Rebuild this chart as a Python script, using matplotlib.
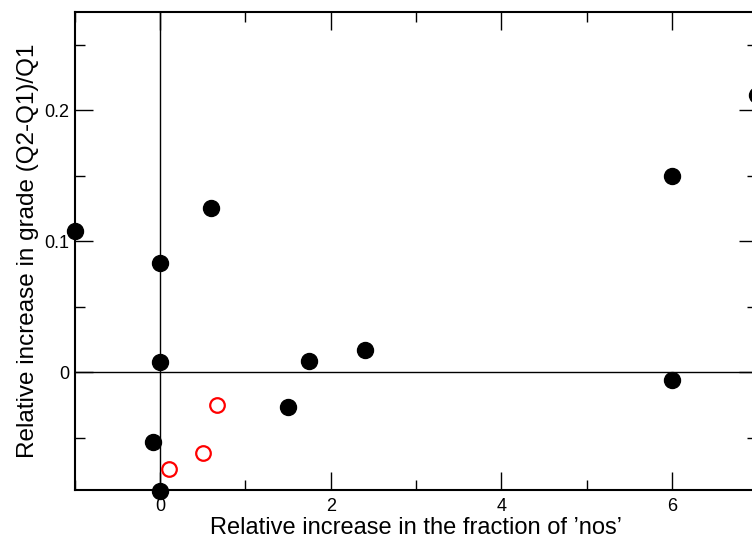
import matplotlib.pyplot as plt
from matplotlib.ticker import MultipleLocator

# black filled points
x_black = [-1.0, 0.0, 0.0, -0.08, 0.0, 0.6, 1.5, 1.75, 2.4, 6.0, 6.0, 7.0]
y_black = [0.108, 0.0835, 0.008, -0.0535, -0.0905, 0.125, -0.0265, 0.0085, 0.017, 0.150, -0.006, 0.212]

# red open circles
x_red = [0.1, 0.5, 0.67]
y_red = [-0.074, -0.062, -0.025]

plt.rcParams["font.family"] = ["Liberation Sans", "DejaVu Sans"]

fig = plt.figure(figsize=(7.52, 5.38), dpi=100)
ax = fig.add_axes([0.0997, 0.0892, 0.907, 0.8885])

ax.axvline(0, color="black", lw=1.0, zorder=1)
ax.axhline(0, color="black", lw=1.0, zorder=1)

ax.plot(x_black, y_black, "o", color="black", ms=11.5, zorder=3, clip_on=False)
ax.plot(x_red, y_red, "o", mfc="none", mec="red", mew=1.6, ms=10.5, zorder=3)

ax.set_xlim(-1, 7)
ax.set_ylim(-0.09, 0.275)

ax.xaxis.set_major_locator(MultipleLocator(2))
ax.xaxis.set_minor_locator(MultipleLocator(1))
ax.yaxis.set_major_locator(MultipleLocator(0.1))
ax.yaxis.set_minor_locator(MultipleLocator(0.05))
ax.xaxis.set_major_formatter(plt.FuncFormatter(lambda v, p: f"{v:g}"))
ax.yaxis.set_major_formatter(plt.FuncFormatter(lambda v, p: "0" if abs(v) < 1e-9 else f"{v:.1f}"))

ax.tick_params(which="both", direction="in", top=True, right=True, width=1.0)
ax.tick_params(which="major", length=13, labelsize=13)
ax.tick_params(which="minor", length=7)
ax.tick_params(axis="x", which="major", pad=6)
ax.tick_params(axis="y", which="major", pad=4)
for s in ax.spines.values():
    s.set_linewidth(1.5)

ax.set_xlabel("Relative increase in the fraction of \u2019nos\u2019", fontsize=17, labelpad=1)
ax.set_ylabel("Relative increase in grade (Q2-Q1)/Q1", fontsize=17.5, labelpad=4)

fig.savefig("out.png", dpi=100)
